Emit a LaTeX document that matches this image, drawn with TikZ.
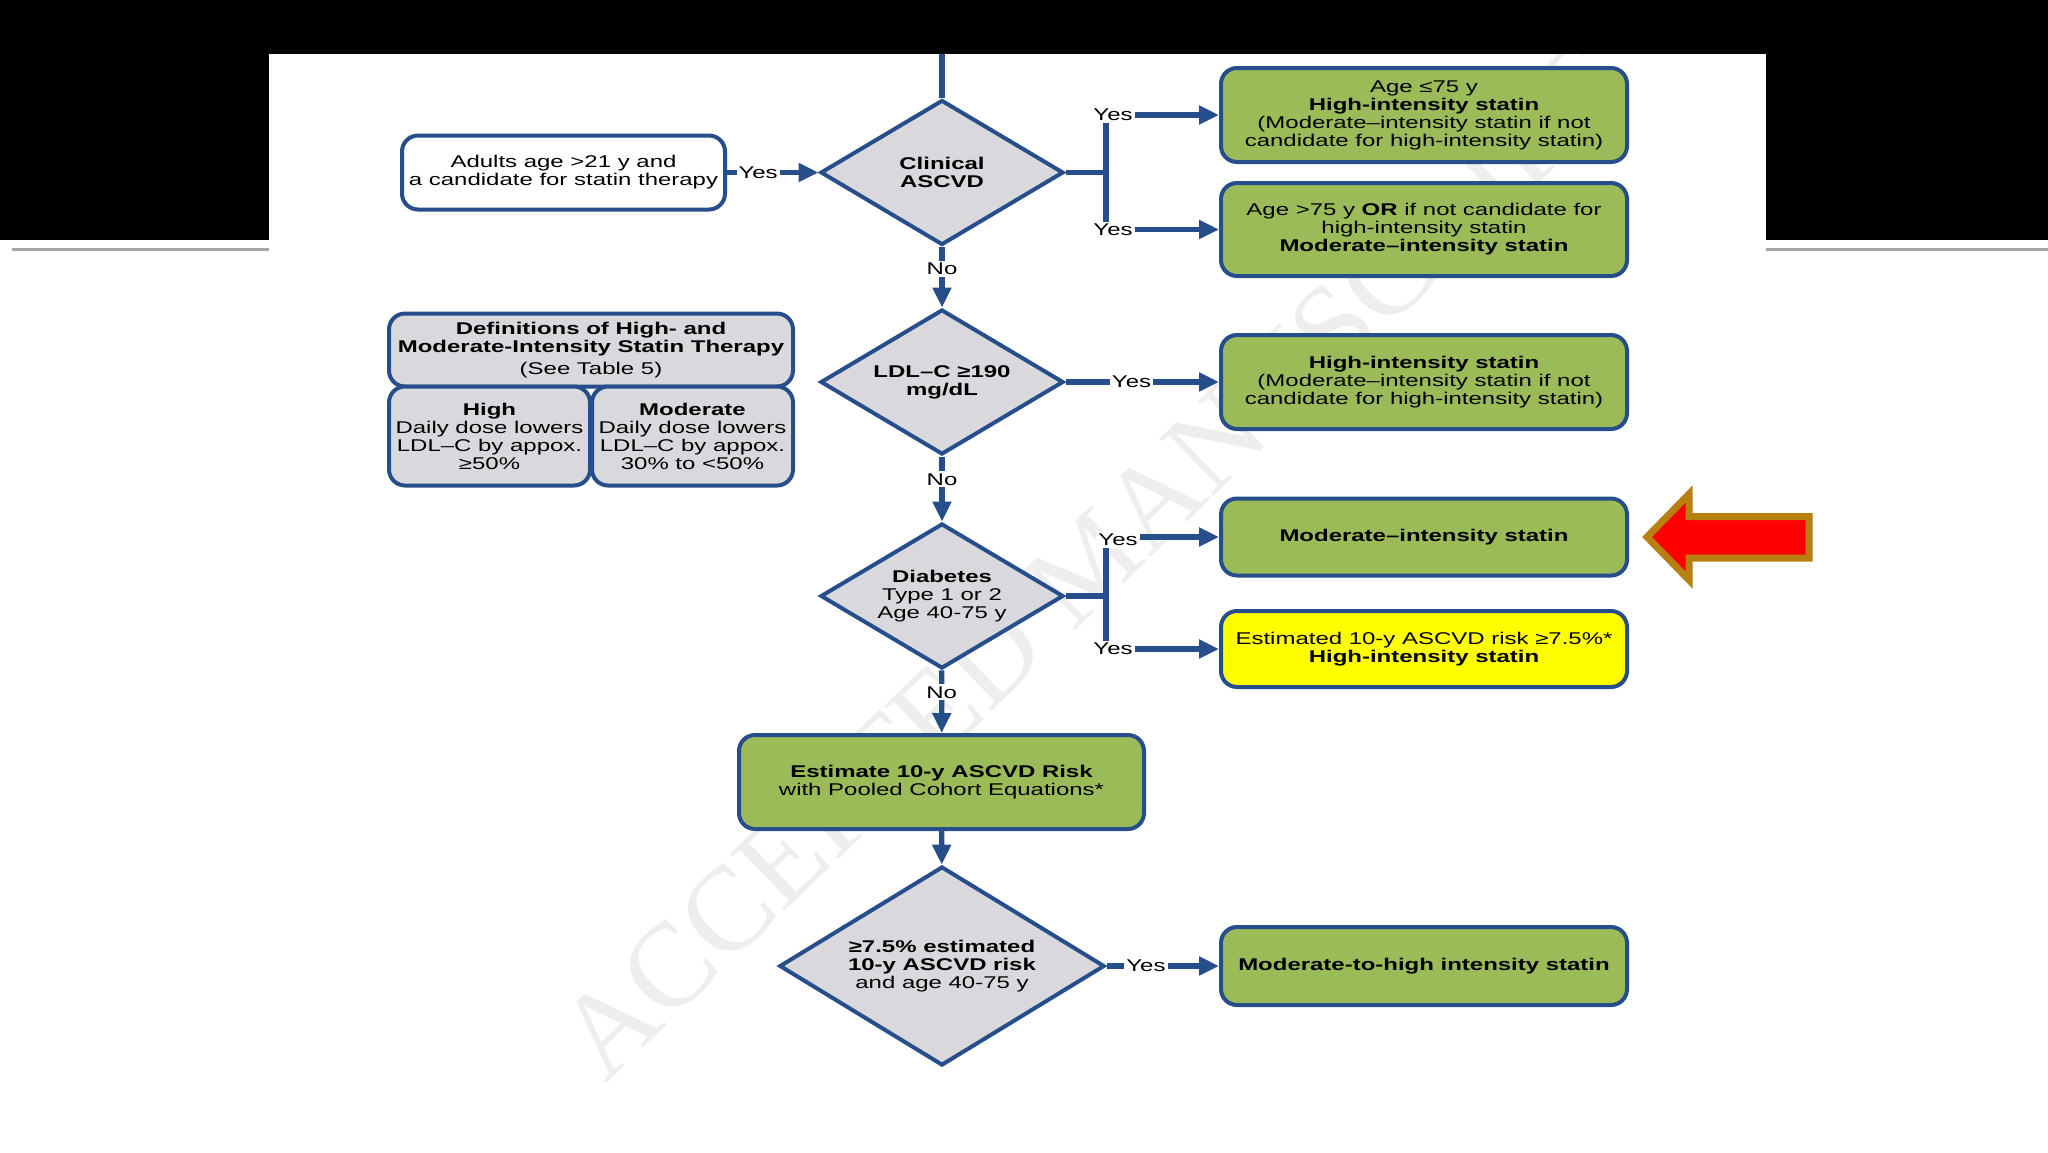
\documentclass[tikz,border=0pt]{standalone}
\usepackage{fontspec}
\setmainfont{Liberation Sans}[FakeStretch=1.41]
\newfontfamily\wmfont{Liberation Serif}
\usetikzlibrary{shapes.geometric,arrows.meta}
\definecolor{navy}{RGB}{38,78,138}
\definecolor{boxgreen}{RGB}{155,187,89}
\definecolor{boxgray}{RGB}{217,217,221}
\definecolor{boxyellow}{RGB}{255,255,0}
\definecolor{gold}{RGB}{184,128,16}
\tikzset{
  txt/.style={font=\fontsize{8.5}{9}\selectfont, align=center, text=black},
  rbox/.style={txt, draw=navy, line width=2pt, rounded corners=8pt, inner sep=0pt},
  gbox/.style={rbox, fill=boxgreen, minimum width=203pt},
  dia/.style={txt, shape=diamond, draw=navy, line width=2pt, fill=boxgray, inner sep=0pt, aspect=1.68, minimum width=121.5pt, minimum height=72.5pt},
  conn/.style={draw=navy, line width=2.6pt},
  arr/.style={conn, -{Triangle[length=10pt,width=9pt]}},
  lbl/.style={txt, fill=white, inner sep=1pt}
}
\begin{document}
\begin{tikzpicture}[x=0.5pt,y=-0.5pt]
\useasboundingbox (0,0) rectangle (2048,1152);
\fill[white] (0,0) rectangle (2048,1152);
% watermark
\node[rotate=44, text=gray!13, font=\wmfont\fontsize{60}{60}\selectfont, inner sep=0pt] (wm) at (1090,562) {ACCEPTED MANUSCRIPT};
% slide background
\fill[black] (0,0) rectangle (2048,54);
\fill[black] (0,0) rectangle (269,240);
\fill[black] (1766,0) rectangle (2048,240);
\draw[gray!70, line width=1.5pt] (12,249) -- (269,249);
\draw[gray!70, line width=1.5pt] (1766,249) -- (2048,249);

% nodes
\node[rbox, fill=white, minimum width=161.5pt, minimum height=37pt] (adults) at (563.5,172.5) {Adults age >21 y and\\a candidate for statin therapy};
\node[dia] (clin) at (942,172.5) {\textbf{Clinical}\\\textbf{ASCVD}};
\node[gbox, minimum height=47pt] (box1) at (1424,115) {Age ≤75 y\\\textbf{High-intensity statin}\\(Moderate–intensity statin if not\\candidate for high-intensity statin)};
\node[gbox, minimum height=46.5pt] (box2) at (1424,229.5) {Age >75 y \textbf{OR} if not candidate for\\high-intensity statin\\\textbf{Moderate–intensity statin}};

\node[dia] (ldl) at (942,382) {\textbf{LDL–C ≥190}\\\textbf{mg/dL}};
\node[gbox, minimum height=47pt] (box3) at (1424,382) {\textbf{High-intensity statin}\\(Moderate–intensity statin if not\\candidate for high-intensity statin)};

\node[rbox, fill=boxgray, minimum width=202pt, minimum height=36.5pt] (defs) at (591,350) {\textbf{Definitions of High- and}\\\textbf{Moderate-Intensity Statin Therapy}\\[2pt](See Table 5)};
\node[rbox, fill=boxgray, minimum width=100.5pt, minimum height=49.5pt] (high) at (489.5,436) {\textbf{High}\\Daily dose lowers\\LDL–C by appox.\\≥50\%};
\node[rbox, fill=boxgray, minimum width=100.5pt, minimum height=49.5pt] (moder) at (692.5,436) {\textbf{Moderate}\\Daily dose lowers\\LDL–C by appox.\\30\% to <50\%};

\node[dia] (diab) at (942,596) {\textbf{Diabetes}\\Type 1 or 2\\Age 40-75 y};
\node[gbox, minimum height=38.5pt] (box4) at (1424,537) {\textbf{Moderate–intensity statin}};
\node[gbox, fill=boxyellow, minimum height=38pt] (box5) at (1424,649) {Estimated 10-y ASCVD risk ≥7.5\%*\\\textbf{High-intensity statin}};

\node[gbox, minimum width=202.5pt, minimum height=47pt] (est) at (941.5,782) {\textbf{Estimate 10-y ASCVD Risk}\\with Pooled Cohort Equations*};
\node[dia, aspect=1.63, minimum width=162.6pt, minimum height=99.5pt] (fin) at (942,966) {\textbf{≥7.5\% estimated}\\\textbf{10-y ASCVD risk}\\and age 40-75 y};
\node[gbox, minimum height=39pt] (box6) at (1424,966) {\textbf{Moderate-to-high intensity statin}};

% coordinates
\coordinate (top) at (942,54);
\coordinate (b1) at (1106,172.5);
\coordinate (b1t) at (1106,115);
\coordinate (b1b) at (1106,229.5);
\coordinate (b2) at (1106,596);
\coordinate (b2t) at (1106,537);
\coordinate (b2b) at (1106,649);

% connectors
\draw[conn] (top) -- (clin.north);
\draw[arr] (adults) -- node[lbl, pos=0.34] (y0) {Yes} (clin);
\draw[conn] (clin.east) -- (b1);
\draw[conn] (b1t) -- (b1b);
\draw[arr] (b1t) -- (box1);
\draw[arr] (b1b) -- (box2);
\node[lbl] (y1) at (1113,115) {Yes};
\node[lbl] (y2) at (1113,229.5) {Yes};

\draw[arr] (clin) -- node[lbl, pos=0.36] (n1) {No} (ldl);
\draw[arr] (ldl) -- node[lbl, pos=0.43] (y3) {Yes} (box3);
\draw[arr] (ldl) -- node[lbl, pos=0.35] (n2) {No} (diab);

\draw[conn] (diab.east) -- (b2);
\draw[conn] (b2t) -- (b2b);
\draw[arr] (b2t) -- (box4);
\draw[arr] (b2b) -- (box5);
\node[lbl] (y4) at (1118,540) {Yes};
\node[lbl] (y5) at (1113,649) {Yes};

\draw[arr] (diab) -- node[lbl, pos=0.35] (n3) {No} (est);
\draw[arr] (est) -- (fin);
\draw[arr] (fin) -- node[lbl, pos=0.35] (y6) {Yes} (box6);

% red arrow
\draw[gold, fill=red, line width=3.5pt, line join=miter] (1647,537) -- (1689,494) -- (1689,516.5) -- (1809,516.5) -- (1809,558) -- (1689,558) -- (1689,580) -- cycle;
\end{tikzpicture}
\end{document}
